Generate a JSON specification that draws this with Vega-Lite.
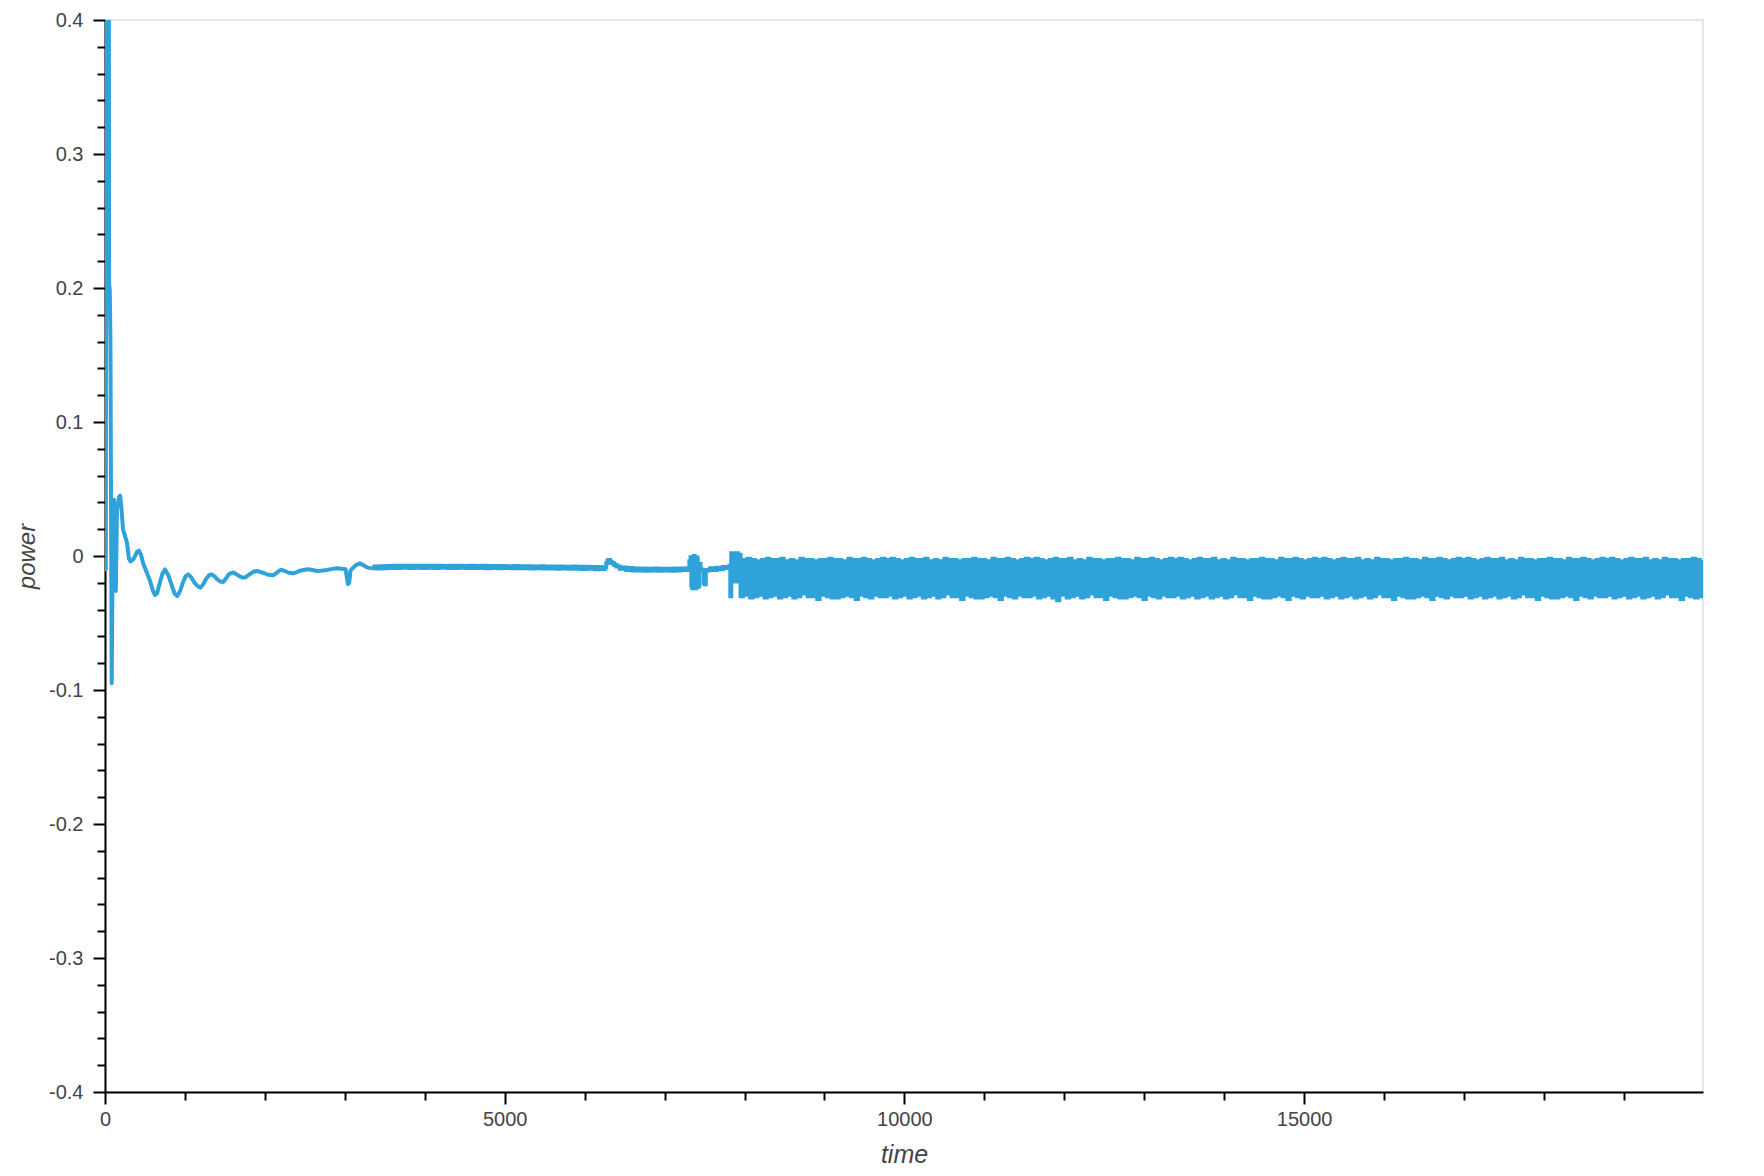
{
"$schema": "https://vega.github.io/schema/vega-lite/v6.json",
"width": 1598, "height": 1072,
"autosize": {"type": "none"},
"padding": {"left": 105, "top": 20, "right": 61, "bottom": 84},
"background": "white",
"config": {"view": {"stroke": "#e6e6e6", "strokeWidth": 2}},
"data": {"values": [
{"t":0,"p":-0.006},{"t":10,"p":-0.010},{"t":22,"p":0.9},{"t":40,"p":0.9},{"t":52,"p":0.203},{"t":60,"p":0.198},{"t":68,"p":0.16},{"t":84,"p":-0.095},{"t":100,"p":0.04},{"t":112,"p":0.042},{"t":122,"p":-0.025},{"t":135,"p":-0.026},{"t":150,"p":0.035},{"t":175,"p":0.044},{"t":190,"p":0.045},{"t":205,"p":0.036},{"t":225,"p":0.02},{"t":250,"p":0.015},{"t":275,"p":0.01},{"t":300,"p":-0.002},{"t":320,"p":-0.004},{"t":360,"p":-0.002},{"t":400,"p":0.003},{"t":425,"p":0.004},{"t":450,"p":0.001},{"t":480,"p":-0.006},{"t":520,"p":-0.012},{"t":560,"p":-0.018},{"t":600,"p":-0.026},{"t":625,"p":-0.029},{"t":650,"p":-0.028},{"t":690,"p":-0.019},{"t":720,"p":-0.013},{"t":750,"p":-0.010},{"t":790,"p":-0.014},{"t":830,"p":-0.021},{"t":870,"p":-0.028},{"t":904,"p":-0.030},{"t":940,"p":-0.026},{"t":980,"p":-0.019},{"t":1010,"p":-0.015},{"t":1042,"p":-0.0137},{"t":1080,"p":-0.016},{"t":1120,"p":-0.020},{"t":1160,"p":-0.0225},{"t":1196,"p":-0.0236},{"t":1230,"p":-0.021},{"t":1265,"p":-0.017},{"t":1300,"p":-0.0145},{"t":1333,"p":-0.0137},{"t":1370,"p":-0.015},{"t":1405,"p":-0.0175},{"t":1440,"p":-0.019},{"t":1479,"p":-0.0194},{"t":1510,"p":-0.017},{"t":1545,"p":-0.014},{"t":1575,"p":-0.0128},{"t":1604,"p":-0.0124},{"t":1640,"p":-0.0135},{"t":1680,"p":-0.015},{"t":1715,"p":-0.016},{"t":1750,"p":-0.0161},{"t":1790,"p":-0.0145},{"t":1830,"p":-0.0128},{"t":1865,"p":-0.0115},{"t":1896,"p":-0.0112},{"t":1940,"p":-0.0118},{"t":1990,"p":-0.0128},{"t":2040,"p":-0.014},{"t":2104,"p":-0.0144},{"t":2150,"p":-0.0125},{"t":2180,"p":-0.011},{"t":2208,"p":-0.0104},{"t":2250,"p":-0.0112},{"t":2300,"p":-0.0125},{"t":2354,"p":-0.0129},{"t":2400,"p":-0.012},{"t":2450,"p":-0.0108},{"t":2500,"p":-0.0102},{"t":2541,"p":-0.0099},{"t":2600,"p":-0.0105},{"t":2650,"p":-0.0112},{"t":2700,"p":-0.011},{"t":2771,"p":-0.0104},{"t":2830,"p":-0.0098},{"t":2900,"p":-0.0092},{"t":2960,"p":-0.0095},{"t":3010,"p":-0.0099},{"t":3025,"p":-0.016},{"t":3040,"p":-0.021},{"t":3055,"p":-0.02},{"t":3070,"p":-0.011},{"t":3104,"p":-0.0087},{"t":3140,"p":-0.0068},{"t":3187,"p":-0.0055},{"t":3230,"p":-0.0068},{"t":3280,"p":-0.0085},
{"t":3333,"p":-0.0092},{"t":3370,"p":-0.0078},{"t":3410,"p":-0.0094},{"t":3450,"p":-0.0076},{"t":3490,"p":-0.0092},{"t":3530,"p":-0.0074},{"t":3570,"p":-0.0090},{"t":3610,"p":-0.0073},{"t":3650,"p":-0.0089},{"t":3690,"p":-0.0072},{"t":3730,"p":-0.0088},{"t":3770,"p":-0.0073},{"t":3810,"p":-0.0089},{"t":3850,"p":-0.0072},{"t":3890,"p":-0.0088},{"t":3930,"p":-0.0073},{"t":3970,"p":-0.0090},{"t":4010,"p":-0.0072},{"t":4050,"p":-0.0088},{"t":4090,"p":-0.0073},{"t":4130,"p":-0.0089},{"t":4170,"p":-0.0072},{"t":4210,"p":-0.0088},{"t":4250,"p":-0.0074},{"t":4290,"p":-0.0089},{"t":4330,"p":-0.0073},{"t":4370,"p":-0.0090},{"t":4410,"p":-0.0072},{"t":4450,"p":-0.0088},{"t":4490,"p":-0.0074},{"t":4530,"p":-0.0089},{"t":4570,"p":-0.0073},{"t":4610,"p":-0.0090},{"t":4650,"p":-0.0074},{"t":4690,"p":-0.0089},{"t":4730,"p":-0.0073},{"t":4770,"p":-0.0091},{"t":4810,"p":-0.0075},{"t":4850,"p":-0.0089},{"t":4890,"p":-0.0074},{"t":4930,"p":-0.0091},{"t":4970,"p":-0.0075},{"t":5010,"p":-0.0090},{"t":5050,"p":-0.0076},{"t":5090,"p":-0.0092},{"t":5130,"p":-0.0075},{"t":5170,"p":-0.0091},{"t":5210,"p":-0.0077},{"t":5250,"p":-0.0092},{"t":5290,"p":-0.0076},{"t":5330,"p":-0.0093},{"t":5370,"p":-0.0078},{"t":5410,"p":-0.0092},{"t":5450,"p":-0.0077},{"t":5490,"p":-0.0094},{"t":5530,"p":-0.0078},{"t":5570,"p":-0.0093},{"t":5610,"p":-0.0079},{"t":5650,"p":-0.0095},{"t":5690,"p":-0.0078},{"t":5730,"p":-0.0094},{"t":5770,"p":-0.0080},{"t":5810,"p":-0.0096},{"t":5850,"p":-0.0079},{"t":5890,"p":-0.0095},{"t":5930,"p":-0.0081},{"t":5970,"p":-0.0097},{"t":6010,"p":-0.0080},{"t":6050,"p":-0.0096},{"t":6090,"p":-0.0082},{"t":6130,"p":-0.0098},{"t":6170,"p":-0.0083},{"t":6210,"p":-0.0097},{"t":6250,"p":-0.0085},{"t":6270,"p":-0.0055},{"t":6285,"p":-0.0035},{"t":6300,"p":-0.003},{"t":6320,"p":-0.0045},{"t":6340,"p":-0.0055},{"t":6370,"p":-0.0068},{"t":6400,"p":-0.0078},{"t":6440,"p":-0.0096},{"t":6480,"p":-0.0085},{"t":6520,"p":-0.0104},{"t":6560,"p":-0.0090},{"t":6600,"p":-0.0108},{"t":6640,"p":-0.0094},{"t":6680,"p":-0.0108},{"t":6720,"p":-0.0094},{"t":6760,"p":-0.0110},{"t":6800,"p":-0.0095},{"t":6840,"p":-0.0109},{"t":6880,"p":-0.0094},{"t":6920,"p":-0.0110},{"t":6960,"p":-0.0095},{"t":7000,"p":-0.0109},{"t":7040,"p":-0.0095},{"t":7080,"p":-0.0110},{"t":7120,"p":-0.0094},{"t":7160,"p":-0.0108},{"t":7200,"p":-0.0093},{"t":7240,"p":-0.0105},{"t":7290,"p":-0.0092},{"t":7310,"p":-0.004},{"t":7325,"p":-0.001},{"t":7335,"p":-0.022},{"t":7345,"p":-0.024},{"t":7355,"p":-0.001},{"t":7365,"p":0.0},{"t":7375,"p":-0.024},{"t":7385,"p":-0.024},{"t":7395,"p":-0.001},{"t":7405,"p":-0.002},{"t":7415,"p":-0.023},{"t":7425,"p":-0.022},{"t":7435,"p":-0.006},{"t":7450,"p":-0.01},{"t":7475,"p":-0.0105},{"t":7490,"p":-0.02},{"t":7500,"p":-0.021},{"t":7515,"p":-0.011},{"t":7537,"p":-0.0105},{"t":7570,"p":-0.0092},{"t":7610,"p":-0.0104},{"t":7650,"p":-0.0088},{"t":7690,"p":-0.0098},{"t":7730,"p":-0.0082},{"t":7770,"p":-0.0090},{"t":7812,"p":-0.0072},
{"t":7822,"p":-0.030},{"t":7834,"p":0.002},{"t":7846,"p":-0.019},{"t":7858,"p":0.002},{"t":7870,"p":-0.019},{"t":7882,"p":0.002},{"t":7894,"p":-0.019},{"t":7906,"p":0.002},{"t":7918,"p":-0.019},{"t":7930,"p":0.001},
{"t":7950,"p":-0.030},{"t":7980,"p":-0.003},{"t":8010,"p":-0.029},{"t":8040,"p":-0.002},{"t":8070,"p":-0.031},{"t":8100,"p":-0.003},{"t":8130,"p":-0.030},{"t":8160,"p":-0.004},{"t":8190,"p":-0.029},{"t":8220,"p":-0.003},
{"t":8250,"p":-0.031},{"t":8280,"p":-0.002},{"t":8310,"p":-0.030},{"t":8340,"p":-0.003},{"t":8370,"p":-0.029},{"t":8400,"p":-0.003},{"t":8430,"p":-0.031},{"t":8460,"p":-0.002},{"t":8490,"p":-0.030},{"t":8520,"p":-0.004},
{"t":8550,"p":-0.029},{"t":8580,"p":-0.003},{"t":8610,"p":-0.031},{"t":8640,"p":-0.004},{"t":8670,"p":-0.030},{"t":8700,"p":-0.002},{"t":8730,"p":-0.028},{"t":8760,"p":-0.003},{"t":8790,"p":-0.030},{"t":8820,"p":-0.003},
{"t":8850,"p":-0.030},{"t":8880,"p":-0.004},{"t":8910,"p":-0.032},{"t":8940,"p":-0.003},{"t":8970,"p":-0.029},{"t":9000,"p":-0.003},{"t":9030,"p":-0.030},{"t":9060,"p":-0.002},{"t":9090,"p":-0.031},{"t":9120,"p":-0.003},
{"t":9150,"p":-0.031},{"t":9180,"p":-0.003},{"t":9210,"p":-0.030},{"t":9240,"p":-0.004},{"t":9270,"p":-0.029},{"t":9300,"p":-0.002},{"t":9330,"p":-0.030},{"t":9360,"p":-0.003},{"t":9390,"p":-0.032},{"t":9420,"p":-0.003},
{"t":9450,"p":-0.029},{"t":9480,"p":-0.002},{"t":9510,"p":-0.030},{"t":9540,"p":-0.003},{"t":9570,"p":-0.031},{"t":9600,"p":-0.004},{"t":9630,"p":-0.029},{"t":9660,"p":-0.003},{"t":9690,"p":-0.030},{"t":9720,"p":-0.002},
{"t":9750,"p":-0.030},{"t":9780,"p":-0.003},{"t":9810,"p":-0.029},{"t":9840,"p":-0.002},{"t":9870,"p":-0.031},{"t":9900,"p":-0.003},{"t":9930,"p":-0.030},{"t":9960,"p":-0.004},{"t":9990,"p":-0.029},{"t":10020,"p":-0.003},
{"t":10050,"p":-0.031},{"t":10080,"p":-0.002},{"t":10110,"p":-0.030},{"t":10140,"p":-0.003},{"t":10170,"p":-0.029},{"t":10200,"p":-0.003},{"t":10230,"p":-0.031},{"t":10260,"p":-0.002},{"t":10290,"p":-0.030},{"t":10320,"p":-0.004},
{"t":10350,"p":-0.029},{"t":10380,"p":-0.003},{"t":10410,"p":-0.031},{"t":10440,"p":-0.004},{"t":10470,"p":-0.030},{"t":10500,"p":-0.002},{"t":10530,"p":-0.028},{"t":10560,"p":-0.003},{"t":10590,"p":-0.030},{"t":10620,"p":-0.003},
{"t":10650,"p":-0.030},{"t":10680,"p":-0.004},{"t":10710,"p":-0.032},{"t":10740,"p":-0.003},{"t":10770,"p":-0.029},{"t":10800,"p":-0.003},{"t":10830,"p":-0.030},{"t":10860,"p":-0.002},{"t":10890,"p":-0.031},{"t":10920,"p":-0.003},
{"t":10950,"p":-0.031},{"t":10980,"p":-0.003},{"t":11010,"p":-0.030},{"t":11040,"p":-0.004},{"t":11070,"p":-0.029},{"t":11100,"p":-0.002},{"t":11130,"p":-0.030},{"t":11160,"p":-0.003},{"t":11190,"p":-0.032},{"t":11220,"p":-0.003},
{"t":11250,"p":-0.029},{"t":11280,"p":-0.002},{"t":11310,"p":-0.030},{"t":11340,"p":-0.003},{"t":11370,"p":-0.031},{"t":11400,"p":-0.004},{"t":11430,"p":-0.029},{"t":11460,"p":-0.003},{"t":11490,"p":-0.030},{"t":11520,"p":-0.002},
{"t":11550,"p":-0.030},{"t":11580,"p":-0.003},{"t":11610,"p":-0.029},{"t":11640,"p":-0.002},{"t":11670,"p":-0.031},{"t":11700,"p":-0.003},{"t":11730,"p":-0.030},{"t":11760,"p":-0.004},{"t":11790,"p":-0.029},{"t":11820,"p":-0.003},
{"t":11850,"p":-0.031},{"t":11880,"p":-0.002},{"t":11910,"p":-0.033},{"t":11940,"p":-0.003},{"t":11970,"p":-0.029},{"t":12000,"p":-0.003},{"t":12030,"p":-0.031},{"t":12060,"p":-0.002},{"t":12090,"p":-0.030},{"t":12120,"p":-0.004},
{"t":12150,"p":-0.029},{"t":12180,"p":-0.003},{"t":12210,"p":-0.031},{"t":12240,"p":-0.004},{"t":12270,"p":-0.030},{"t":12300,"p":-0.002},{"t":12330,"p":-0.028},{"t":12360,"p":-0.003},{"t":12390,"p":-0.030},{"t":12420,"p":-0.003},
{"t":12450,"p":-0.030},{"t":12480,"p":-0.004},{"t":12510,"p":-0.032},{"t":12540,"p":-0.003},{"t":12570,"p":-0.029},{"t":12600,"p":-0.003},{"t":12630,"p":-0.030},{"t":12660,"p":-0.002},{"t":12690,"p":-0.031},{"t":12720,"p":-0.003},
{"t":12750,"p":-0.031},{"t":12780,"p":-0.003},{"t":12810,"p":-0.030},{"t":12840,"p":-0.004},{"t":12870,"p":-0.029},{"t":12900,"p":-0.002},{"t":12930,"p":-0.030},{"t":12960,"p":-0.003},{"t":12990,"p":-0.032},{"t":13020,"p":-0.003},
{"t":13050,"p":-0.029},{"t":13080,"p":-0.002},{"t":13110,"p":-0.030},{"t":13140,"p":-0.003},{"t":13170,"p":-0.031},{"t":13200,"p":-0.004},{"t":13230,"p":-0.029},{"t":13260,"p":-0.003},{"t":13290,"p":-0.030},{"t":13320,"p":-0.002},
{"t":13350,"p":-0.030},{"t":13380,"p":-0.003},{"t":13410,"p":-0.029},{"t":13440,"p":-0.002},{"t":13470,"p":-0.031},{"t":13500,"p":-0.003},{"t":13530,"p":-0.030},{"t":13560,"p":-0.004},{"t":13590,"p":-0.029},{"t":13620,"p":-0.003},
{"t":13650,"p":-0.031},{"t":13680,"p":-0.002},{"t":13710,"p":-0.030},{"t":13740,"p":-0.003},{"t":13770,"p":-0.029},{"t":13800,"p":-0.003},{"t":13830,"p":-0.031},{"t":13860,"p":-0.002},{"t":13890,"p":-0.030},{"t":13920,"p":-0.004},
{"t":13950,"p":-0.029},{"t":13980,"p":-0.003},{"t":14010,"p":-0.031},{"t":14040,"p":-0.004},{"t":14070,"p":-0.030},{"t":14100,"p":-0.002},{"t":14130,"p":-0.028},{"t":14160,"p":-0.003},{"t":14190,"p":-0.030},{"t":14220,"p":-0.003},
{"t":14250,"p":-0.030},{"t":14280,"p":-0.004},{"t":14310,"p":-0.032},{"t":14340,"p":-0.003},{"t":14370,"p":-0.029},{"t":14400,"p":-0.003},{"t":14430,"p":-0.030},{"t":14460,"p":-0.002},{"t":14490,"p":-0.031},{"t":14520,"p":-0.003},
{"t":14550,"p":-0.031},{"t":14580,"p":-0.003},{"t":14610,"p":-0.030},{"t":14640,"p":-0.004},{"t":14670,"p":-0.029},{"t":14700,"p":-0.002},{"t":14730,"p":-0.030},{"t":14760,"p":-0.003},{"t":14790,"p":-0.032},{"t":14820,"p":-0.003},
{"t":14850,"p":-0.029},{"t":14880,"p":-0.002},{"t":14910,"p":-0.030},{"t":14940,"p":-0.003},{"t":14970,"p":-0.031},{"t":15000,"p":-0.004},{"t":15030,"p":-0.029},{"t":15060,"p":-0.003},{"t":15090,"p":-0.030},{"t":15120,"p":-0.002},
{"t":15150,"p":-0.030},{"t":15180,"p":-0.003},{"t":15210,"p":-0.029},{"t":15240,"p":-0.002},{"t":15270,"p":-0.031},{"t":15300,"p":-0.003},{"t":15330,"p":-0.030},{"t":15360,"p":-0.004},{"t":15390,"p":-0.029},{"t":15420,"p":-0.003},
{"t":15450,"p":-0.031},{"t":15480,"p":-0.002},{"t":15510,"p":-0.030},{"t":15540,"p":-0.003},{"t":15570,"p":-0.029},{"t":15600,"p":-0.003},{"t":15630,"p":-0.031},{"t":15660,"p":-0.002},{"t":15690,"p":-0.030},{"t":15720,"p":-0.004},
{"t":15750,"p":-0.029},{"t":15780,"p":-0.003},{"t":15810,"p":-0.031},{"t":15840,"p":-0.004},{"t":15870,"p":-0.030},{"t":15900,"p":-0.002},{"t":15930,"p":-0.028},{"t":15960,"p":-0.003},{"t":15990,"p":-0.030},{"t":16020,"p":-0.003},
{"t":16050,"p":-0.030},{"t":16080,"p":-0.004},{"t":16110,"p":-0.032},{"t":16140,"p":-0.003},{"t":16170,"p":-0.029},{"t":16200,"p":-0.003},{"t":16230,"p":-0.030},{"t":16260,"p":-0.002},{"t":16290,"p":-0.031},{"t":16320,"p":-0.003},
{"t":16350,"p":-0.031},{"t":16380,"p":-0.003},{"t":16410,"p":-0.030},{"t":16440,"p":-0.004},{"t":16470,"p":-0.029},{"t":16500,"p":-0.002},{"t":16530,"p":-0.030},{"t":16560,"p":-0.003},{"t":16590,"p":-0.032},{"t":16620,"p":-0.003},
{"t":16650,"p":-0.029},{"t":16680,"p":-0.002},{"t":16710,"p":-0.030},{"t":16740,"p":-0.003},{"t":16770,"p":-0.031},{"t":16800,"p":-0.004},{"t":16830,"p":-0.029},{"t":16860,"p":-0.003},{"t":16890,"p":-0.030},{"t":16920,"p":-0.002},
{"t":16950,"p":-0.030},{"t":16980,"p":-0.003},{"t":17010,"p":-0.029},{"t":17040,"p":-0.002},{"t":17070,"p":-0.031},{"t":17100,"p":-0.003},{"t":17130,"p":-0.030},{"t":17160,"p":-0.004},{"t":17190,"p":-0.029},{"t":17220,"p":-0.003},
{"t":17250,"p":-0.031},{"t":17280,"p":-0.002},{"t":17310,"p":-0.030},{"t":17340,"p":-0.003},{"t":17370,"p":-0.029},{"t":17400,"p":-0.003},{"t":17430,"p":-0.031},{"t":17460,"p":-0.002},{"t":17490,"p":-0.030},{"t":17520,"p":-0.004},
{"t":17550,"p":-0.029},{"t":17580,"p":-0.003},{"t":17610,"p":-0.031},{"t":17640,"p":-0.004},{"t":17670,"p":-0.030},{"t":17700,"p":-0.002},{"t":17730,"p":-0.028},{"t":17760,"p":-0.003},{"t":17790,"p":-0.030},{"t":17820,"p":-0.003},
{"t":17850,"p":-0.030},{"t":17880,"p":-0.004},{"t":17910,"p":-0.032},{"t":17940,"p":-0.003},{"t":17970,"p":-0.029},{"t":18000,"p":-0.003},{"t":18030,"p":-0.030},{"t":18060,"p":-0.002},{"t":18090,"p":-0.031},{"t":18120,"p":-0.003},
{"t":18150,"p":-0.031},{"t":18180,"p":-0.003},{"t":18210,"p":-0.030},{"t":18240,"p":-0.004},{"t":18270,"p":-0.029},{"t":18300,"p":-0.002},{"t":18330,"p":-0.030},{"t":18360,"p":-0.003},{"t":18390,"p":-0.032},{"t":18420,"p":-0.003},
{"t":18450,"p":-0.029},{"t":18480,"p":-0.002},{"t":18510,"p":-0.030},{"t":18540,"p":-0.003},{"t":18570,"p":-0.031},{"t":18600,"p":-0.004},{"t":18630,"p":-0.029},{"t":18660,"p":-0.003},{"t":18690,"p":-0.030},{"t":18720,"p":-0.002},
{"t":18750,"p":-0.030},{"t":18780,"p":-0.003},{"t":18810,"p":-0.029},{"t":18840,"p":-0.002},{"t":18870,"p":-0.031},{"t":18900,"p":-0.003},{"t":18930,"p":-0.030},{"t":18960,"p":-0.004},{"t":18990,"p":-0.029},{"t":19020,"p":-0.003},
{"t":19050,"p":-0.031},{"t":19080,"p":-0.002},{"t":19110,"p":-0.030},{"t":19140,"p":-0.003},{"t":19170,"p":-0.029},{"t":19200,"p":-0.003},{"t":19230,"p":-0.031},{"t":19260,"p":-0.002},{"t":19290,"p":-0.030},{"t":19320,"p":-0.004},
{"t":19350,"p":-0.029},{"t":19380,"p":-0.003},{"t":19410,"p":-0.031},{"t":19440,"p":-0.004},{"t":19470,"p":-0.030},{"t":19500,"p":-0.002},{"t":19530,"p":-0.028},{"t":19560,"p":-0.003},{"t":19590,"p":-0.030},{"t":19620,"p":-0.003},
{"t":19650,"p":-0.030},{"t":19680,"p":-0.004},{"t":19710,"p":-0.032},{"t":19740,"p":-0.003},{"t":19770,"p":-0.029},{"t":19800,"p":-0.003},{"t":19830,"p":-0.030},{"t":19860,"p":-0.002},{"t":19890,"p":-0.031},{"t":19920,"p":-0.003},
{"t":19950,"p":-0.030},{"t":19980,"p":-0.003}
]},
"encoding": {
"x": {"field": "t", "type": "quantitative",
 "scale": {"domain": [0, 19990], "nice": false, "zero": false},
 "axis": {"title": "time", "grid": false,
  "values": [0,1000,2000,3000,4000,5000,6000,7000,8000,9000,10000,11000,12000,13000,14000,15000,16000,17000,18000,19000],
  "labelExpr": "datum.value % 5000 === 0 ? '' + datum.value : ''",
  "tickSize": {"condition": {"test": "datum.value % 5000 === 0", "value": 12}, "value": 8},
  "domainColor": "#000000", "domainWidth": 2, "tickColor": "#000000", "tickWidth": 2,
  "labelColor": "#444444", "labelFont": "Liberation Sans", "labelFontSize": 20, "labelPadding": 5,
  "labelFlush": false, "labelOverlap": false,
  "titleFont": "Liberation Sans", "titleFontStyle": "italic", "titleFontWeight": "normal", "titleFontSize": 25,
  "titleColor": "#444444", "titleBaseline": "alphabetic", "titleX": 799, "titleY": 70}},
"y": {"field": "p", "type": "quantitative",
 "scale": {"domain": [-0.4, 0.4], "nice": false, "zero": false},
 "axis": {"title": "power", "grid": false,
  "values": [-0.4,-0.38,-0.36,-0.34,-0.32,-0.3,-0.28,-0.26,-0.24,-0.22,-0.2,-0.18,-0.16,-0.14,-0.12,-0.1,-0.08,-0.06,-0.04,-0.02,0,0.02,0.04,0.06,0.08,0.1,0.12,0.14,0.16,0.18,0.2,0.22,0.24,0.26,0.28,0.3,0.32,0.34,0.36,0.38,0.4],
  "labelExpr": "abs(round(datum.value*100)) % 10 === 0 ? '' + round(datum.value*10)/10 : ''",
  "tickSize": {"condition": {"test": "abs(round(datum.value*100)) % 10 === 0", "value": 12}, "value": 8},
  "domainColor": "#000000", "domainWidth": 2, "tickColor": "#000000", "tickWidth": 2,
  "labelColor": "#444444", "labelFont": "Liberation Sans", "labelFontSize": 20, "labelPadding": 10,
  "labelFlush": false, "labelOverlap": false,
  "titleFont": "Liberation Sans", "titleFontStyle": "italic", "titleFontWeight": "normal", "titleFontSize": 24,
  "titleColor": "#444444", "titleBaseline": "alphabetic", "titleAngle": 270, "titleX": -71, "titleY": 536}}
},
"layer": [
 {"transform": [{"filter": "datum.t <= 3333"}],
  "mark": {"type": "line", "color": "#30a2da", "strokeWidth": 4, "clip": true, "strokeJoin": "round", "strokeCap": "butt"}},
 {"transform": [{"filter": "datum.t >= 3333"}],
  "mark": {"type": "line", "color": "#30a2da", "strokeWidth": 4, "clip": true, "interpolate": "step-after", "strokeJoin": "miter", "strokeCap": "butt"}}
]
}
